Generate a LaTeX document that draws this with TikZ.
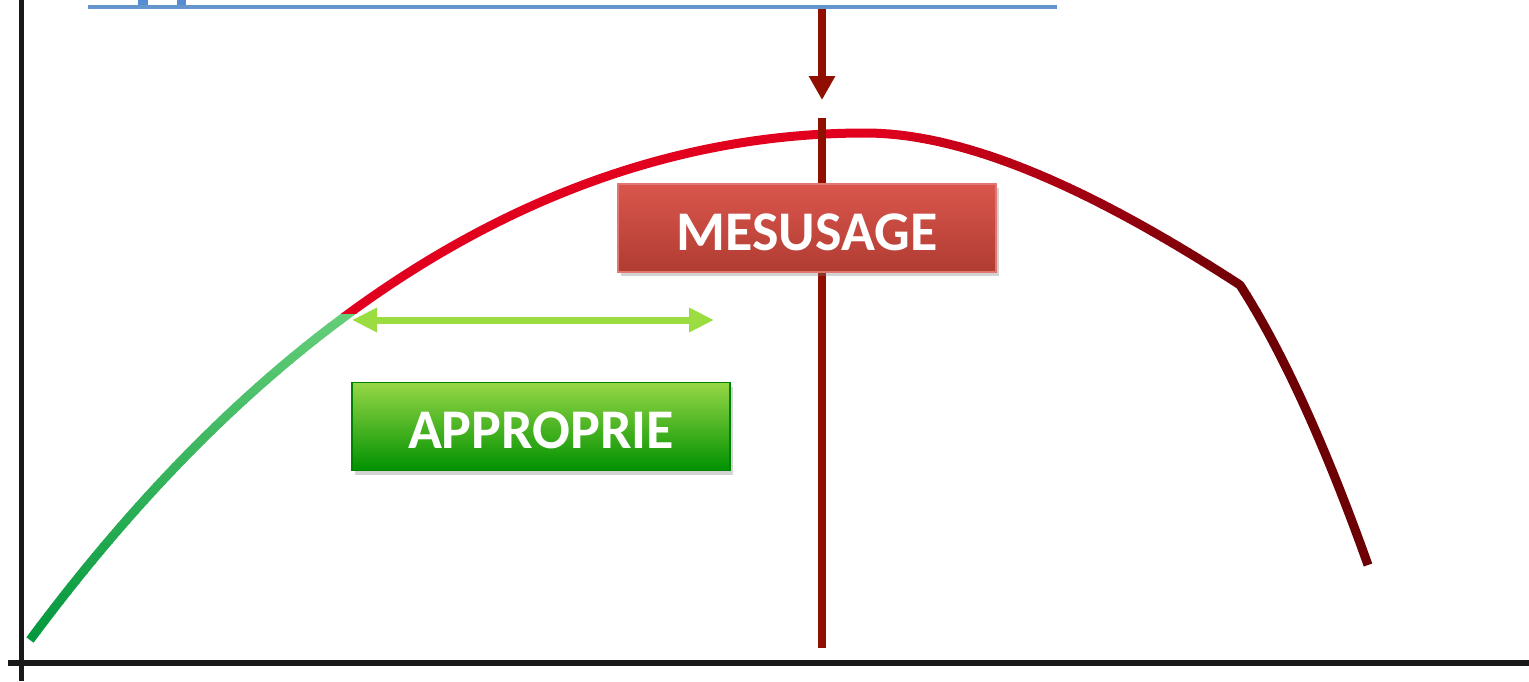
\documentclass[tikz,border=0pt]{standalone}
\usepackage{fontspec}
\setmainfont{Carlito}
\usetikzlibrary{arrows.meta,shadows}
\definecolor{curvegreenlo}{RGB}{0,150,60}
\definecolor{curvegreenhi}{RGB}{100,205,120}
\definecolor{curvered}{RGB}{225,0,30}
\definecolor{curvedark}{RGB}{108,0,5}
\definecolor{markred}{RGB}{145,15,0}
\definecolor{rangegreen}{RGB}{155,220,65}
\definecolor{topblue}{RGB}{100,150,205}
\definecolor{bitblue}{RGB}{85,140,210}
\definecolor{axisgray}{RGB}{25,25,25}
\definecolor{misusetop}{RGB}{218,86,76}
\definecolor{misusebot}{RGB}{176,60,50}
\definecolor{propertop}{RGB}{150,215,70}
\definecolor{properbot}{RGB}{0,145,0}

\newcommand{\usecurve}{(30,640) .. controls (280,303) and (565,133) .. (865,133) .. controls (965,133) and (1090,187.5) .. (1240,285) .. controls (1285,355) and (1328,453) .. (1368,565)}

\begin{document}
\begin{tikzpicture}[x=0.5pt,y=-0.5pt]
    \tikzstyle{axis} = [draw=axisgray, line width=2.6pt]
    \tikzstyle{curveline} = [line width=4.5pt, line join=round]
    \tikzstyle{markline} = [draw=markred, line width=3.7pt]
    \tikzstyle{rangeline} = [draw=rangegreen, fill=rangegreen, line width=3.5pt]
    \tikzstyle{labelbox} = [rectangle, minimum width=189pt, minimum height=44pt, text=white, text height=22pt, text depth=0pt, font=\bfseries\fontsize{28}{32}\selectfont, drop shadow={opacity=0.35, shadow xshift=1.5pt, shadow yshift=-2pt}]
    \tikzstyle{misuse} = [labelbox, top color=misusetop, bottom color=misusebot, draw=misusetop!80!white, line width=0.6pt]
    \tikzstyle{proper} = [labelbox, top color=propertop, bottom color=properbot, draw=properbot!90!black, line width=0.8pt]

    \useasboundingbox (0,0) rectangle (1529,681);

    % axes
    \coordinate (ytop) at (21.5,0);
    \coordinate (ybot) at (21.5,681);
    \coordinate (xleft) at (8,663);
    \coordinate (xright) at (1529,663);
    \draw[axis] (ytop) -- (ybot);
    \draw[axis] (xleft) -- (xright);

    % top blue rule
    \draw[topblue, line width=2pt] (88,7) -- (1057,7);
    \fill[bitblue] (138,0) rectangle (148,5);
    \fill[bitblue] (177,0) rectangle (186,5);

    % curve, green part
    \foreach \y in {313,323,...,653} {
        \pgfmathsetmacro\pct{max(0,min(100,(648-\y)/335*100))}
        \colorlet{stripcol}{curvegreenhi!\pct!curvegreenlo}
        \begin{scope}
            \clip (0,\y) rectangle (700,\y+10.6);
            \draw[curveline, stripcol] \usecurve;
        \end{scope}
    }
    % curve, red part
    \begin{scope}
        \clip (0,0) rectangle (870,313);
        \draw[curveline, curvered] \usecurve;
    \end{scope}
    % curve, dark part
    \foreach \x in {870,880,...,1250} {
        \pgfmathsetmacro\pct{(\x-870)/380*100}
        \colorlet{stripcol}{curvedark!\pct!curvered}
        \begin{scope}
            \clip (\x,0) rectangle (\x+10.6,681);
            \draw[curveline, stripcol] \usecurve;
        \end{scope}
    }
    \begin{scope}
        \clip (1260,0) rectangle (1529,681);
        \draw[curveline, curvedark] \usecurve;
    \end{scope}

    % marker
    \coordinate (vtop) at (822,118);
    \coordinate (vbot) at (822,648);
    \coordinate (arrtop) at (822,9);
    \coordinate (arrtip) at (822,100);
    \draw[markline] (vtop) -- (vbot);
    \draw[markline, -{Triangle[width=12.5pt,length=12pt]}, fill=markred] (arrtop) -- (arrtip);

    % range arrow
    \coordinate (rangeleft) at (352,320);
    \coordinate (rangeright) at (714,320);
    \draw[rangeline, {Triangle[width=11.5pt,length=12.5pt]}-{Triangle[width=11.5pt,length=12.5pt]}] (rangeleft) -- (rangeright);

    \node[misuse] (mesusage) at (807,228) {MESUSAGE};
    \node[proper] (approprie) at (541,426.5) {APPROPRIE};
\end{tikzpicture}
\end{document}
